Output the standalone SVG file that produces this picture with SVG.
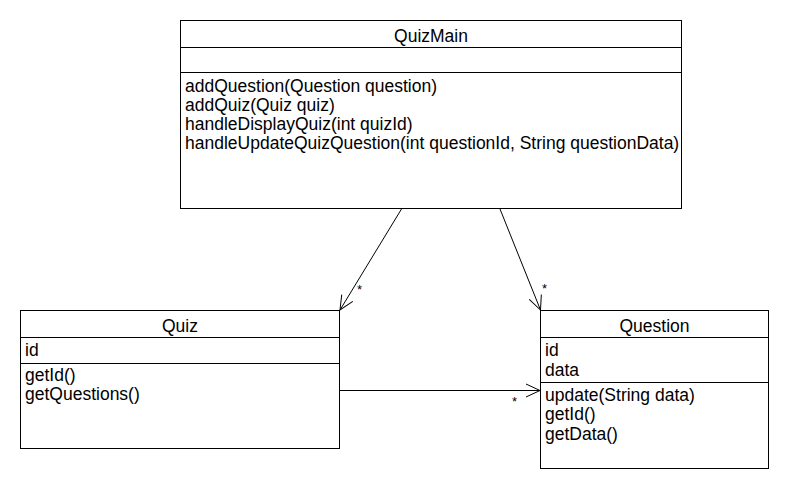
<svg xmlns="http://www.w3.org/2000/svg" width="790" height="490" viewBox="0 0 790 490">
<style>
.box{fill:#fff;stroke:#000;stroke-width:1}
.ln{stroke:#000;stroke-width:1;fill:none}
text{font-family:"Liberation Sans",Arial,sans-serif;font-size:17.5px;fill:#000}
.t{text-anchor:middle}
.m{font-size:13px}
</style>
<defs>
<marker id="open" markerUnits="userSpaceOnUse" markerWidth="16" markerHeight="16" viewBox="-15 -8 16 16" refX="0" refY="0" orient="auto">
<path d="M-14,-6.5 L0,0 L-14,6.5" fill="none" stroke="#000" stroke-width="1"/>
</marker>
</defs>
<g id="QuizMain">
<rect class="box" x="180.5" y="20.5" width="501" height="188"/>
<line class="ln" x1="180.5" y1="47.5" x2="681.5" y2="47.5"/>
<line class="ln" x1="180.5" y1="72.5" x2="681.5" y2="72.5"/>
<text class="t" x="431" y="42">QuizMain</text>
<text x="185" y="92">addQuestion(Question question)</text>
<text x="185" y="111">addQuiz(Quiz quiz)</text>
<text x="185" y="130">handleDisplayQuiz(int quizId)</text>
<text x="185" y="149">handleUpdateQuizQuestion(int questionId, String questionData)</text>
</g>
<g id="Quiz">
<rect class="box" x="20.5" y="310.5" width="319" height="138"/>
<line class="ln" x1="20.5" y1="337.5" x2="339.5" y2="337.5"/>
<line class="ln" x1="20.5" y1="363.5" x2="339.5" y2="363.5"/>
<text class="t" x="180" y="332">Quiz</text>
<text x="25" y="356">id</text>
<text x="25" y="381">getId()</text>
<text x="25" y="400">getQuestions()</text>
</g>
<g id="Question">
<rect class="box" x="540.5" y="310.5" width="228" height="158"/>
<line class="ln" x1="540.5" y1="337.5" x2="768.5" y2="337.5"/>
<line class="ln" x1="540.5" y1="382.5" x2="768.5" y2="382.5"/>
<text class="t" x="654.5" y="332">Question</text>
<text x="545" y="356">id</text>
<text x="545" y="376">data</text>
<text x="545" y="401">update(String data)</text>
<text x="545" y="420">getId()</text>
<text x="545" y="440">getData()</text>
</g>
<g id="connectors">
<line class="ln" x1="401.5" y1="209" x2="340" y2="310" marker-end="url(#open)"/>
<line class="ln" x1="500" y1="209" x2="540.5" y2="310" marker-end="url(#open)"/>
<line class="ln" x1="339.5" y1="390.5" x2="540" y2="390.5" marker-end="url(#open)"/>
<text class="m" x="357" y="294">*</text>
<text class="m" x="542" y="293">*</text>
<text class="m" x="512" y="406">*</text>
</g>
</svg>
